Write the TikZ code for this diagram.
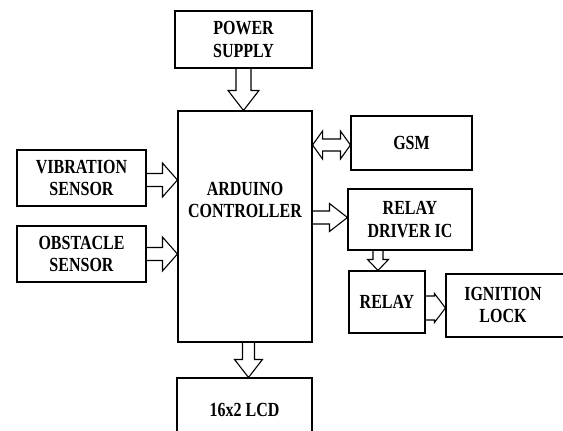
\documentclass[tikz,border=0pt]{standalone}
\usepackage{fontspec}
\setmainfont{Liberation Serif}[FakeStretch=0.80]
\usetikzlibrary{calc}
\tikzset{
  blk/.style={draw=black, line width=1.1pt, inner sep=0pt, align=center,
    font=\fontsize{20}{22.5}\selectfont\bfseries},
  lbl/.style={inner sep=0pt, align=center, font=\fontsize{20}{22.5}\selectfont\bfseries},
  fat/.style={draw=black, line width=1.1pt, line join=miter}
}
% single fat arrow: from, to, shaft half width, head half width, head length
\newcommand\fatarrow[5]{%
  \path[fat] let \p1=(#1), \p2=(#2), \n1={atan2(\y2-\y1,\x2-\x1)},
    \n2={veclen(\x2-\x1,\y2-\y1)} in
    [shift={(\p1)}, rotate=\n1]
    (0,#3) -- ({\n2-#5},#3) -- ({\n2-#5},#4) -- ({\n2},0)
    -- ({\n2-#5},-#4) -- ({\n2-#5},-#3) -- (0,-#3);}
% double fat arrow
\newcommand\fatdouble[5]{%
  \path[fat] let \p1=(#1), \p2=(#2), \n1={atan2(\y2-\y1,\x2-\x1)},
    \n2={veclen(\x2-\x1,\y2-\y1)} in
    [shift={(\p1)}, rotate=\n1]
    (#5,#3) -- ({\n2-#5},#3) -- ({\n2-#5},#4) -- ({\n2},0)
    -- ({\n2-#5},-#4) -- ({\n2-#5},-#3) -- (#5,-#3) -- (#5,-#4) -- (0,0)
    -- (#5,#4) -- cycle;}
\begin{document}
\begin{tikzpicture}[x=1pt,y=-1pt]
\useasboundingbox (0,0) rectangle (563,431);
\fill[white] (0,0) rectangle (563,431);
\clip (0,0) rectangle (563,431);
% blocks
\node[blk, minimum width=137pt, minimum height=57pt] (ps) at (243.5,39.5) {POWER\\SUPPLY};
\node[blk, minimum width=134pt, minimum height=231pt] (ard) at (245,226.5) {};
\node[lbl] (ardtxt) at (245,200) {ARDUINO\\CONTROLLER};
\node[blk, minimum width=129pt, minimum height=56pt] (vib) at (81.5,178) {VIBRATION\\SENSOR};
\node[blk, minimum width=129pt, minimum height=56pt] (obs) at (81.5,254) {OBSTACLE\\SENSOR};
\node[blk, minimum width=121pt, minimum height=54pt] (gsm) at (411.5,143) {GSM};
\node[blk, minimum width=124pt, minimum height=61pt] (rdi) at (410,219.5) {RELAY\\DRIVER IC};
\node[blk, minimum width=76pt, minimum height=62pt] (relay) at (387,302) {RELAY};
\node[blk, minimum width=122pt, minimum height=63pt] (ign) at (507,305.5) {};
\node[lbl] (igntxt) at (503,305) {IGNITION\\LOCK};
\node[blk, minimum width=135pt, minimum height=70pt] (lcd) at (244.5,413) {};
\node[lbl] (lcdtxt) at (244.5,410) {16x2 LCD};
% connectors
\fatarrow{ps.south}{ps.south |- ard.north}{7.5}{15.5}{20}
\fatarrow{[yshift=-2pt]vib.east}{[yshift=-2pt]vib.east -| ard.west}{6.5}{17}{15}
\fatarrow{obs.east}{obs.east -| ard.west}{6.5}{17}{15}
\fatdouble{[yshift=-2pt]ard.east |- gsm.west}{[yshift=-2pt]gsm.west}{6}{14}{10}
\fatarrow{[yshift=2pt]ard.east |- rdi.west}{[yshift=2pt]rdi.west}{6.5}{14}{18}
\fatarrow{[xshift=-9pt]relay.north |- rdi.south}{[xshift=-9pt]relay.north}{5}{10.5}{11}
\fatarrow{[yshift=-6pt]relay.east}{[yshift=-6pt]relay.east -| ign.west}{12}{14.5}{11}
\fatarrow{[xshift=4pt]lcd.north |- ard.south}{[xshift=4pt]lcd.north}{6}{14}{18}
\end{tikzpicture}
\end{document}
